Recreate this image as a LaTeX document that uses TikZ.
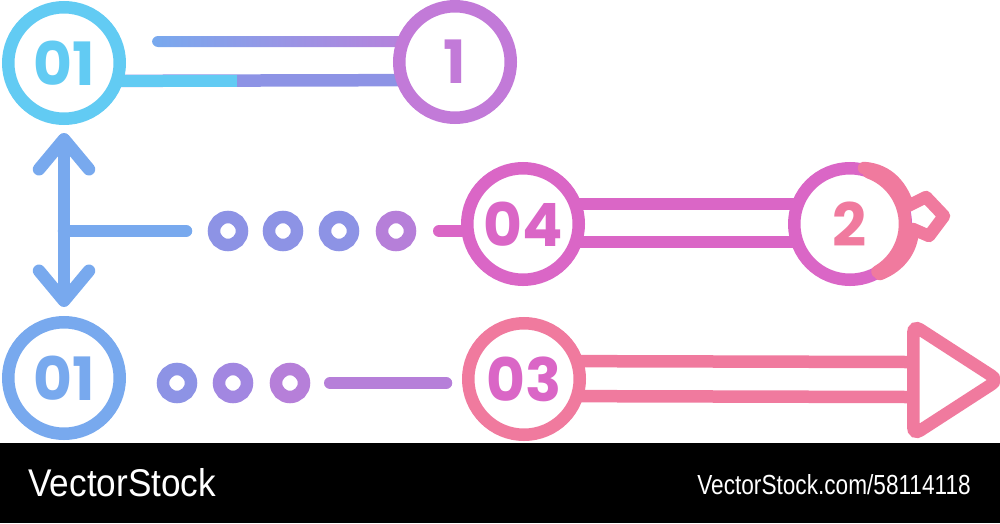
\documentclass[tikz,border=0pt]{standalone}
\usepackage{fontspec}
\setmainfont{Liberation Sans}
\newfontfamily\numfont{Poppins}
\usepackage{tikz}
\usetikzlibrary{calc,arrows.meta,shapes.geometric}
\definecolor{sky}{HTML}{62CBF3}
\definecolor{cobalt}{HTML}{78A9EE}
\definecolor{peri}{HTML}{8D93E5}
\definecolor{mauve}{HTML}{A287E1}
\definecolor{lilac}{HTML}{B67FD9}
\definecolor{plum}{HTML}{C27AD8}
\definecolor{orchid}{HTML}{DA66C6}
\definecolor{rose}{HTML}{F07A9E}
\pgfdeclarelayer{bg}
\pgfsetlayers{bg,main}
\tikzset{
  ring/.style={circle, draw=#1, text=#1, fill=white, line width=2.5mm, minimum size=22.3mm, inner sep=0pt,
    font=\numfont\bfseries\fontsize{34}{34}\selectfont},
  bead/.style={circle, draw=#1, line width=2.5mm, minimum size=5.6mm, inner sep=0pt},
  bar/.style={draw=#1, line width=2.5mm, line cap=round},
  flat/.style={draw=#1, line width=2.5mm, line cap=butt},
  spike/.style={isosceles triangle, isosceles triangle stretches, draw=#1, fill=white, line width=2.5mm,
    rounded corners=1.6mm, minimum width=22mm, minimum height=17mm, inner sep=0pt},
  barb/.tip={Straight Barb[length=6mm, width=10mm, round]},
  brand/.style={text=white, inner sep=0pt},
}

\begin{document}
\begin{tikzpicture}[x=0.2mm,y=-0.2mm]
  \useasboundingbox (0,0) rectangle (1000,523);
  % big rings
  \node[ring=sky] (a01) at (64,63) {01};
  \node[ring=plum] (a1) at (455,62) {1};
  \node[ring=orchid] (a04) at (523,224) {04};
  \node[ring=orchid, text=rose] (a2) at (850,224) {2};
  \node[ring=cobalt] (b01) at (64,378) {01};
  \node[ring=rose, text=orchid] (a03) at (524,379) {03};
  \node[spike=rose, anchor=west] (arrowhd) at (907,380) {};
  % small beads
  \foreach \x/\c [count=\i] in {228/peri,283/peri,339/peri,396/lilac}
    \node[bead=\c] (m\i) at (\x,231) {};
  \foreach \x/\c [count=\i] in {177/peri,233/mauve,290/lilac}
    \node[bead=\c] (n\i) at (\x,383) {};
  \coordinate (tee) at (a01 |- m1);
  \coordinate (tend) at (186,231);
  \draw[bar=cobalt, barb-barb, shorten <=1.6mm, shorten >=1.8mm] (a01.south) -- (b01.north);
  \draw[bar=cobalt] (tee) -- (tend);
  % key shape on ring 2
  \draw[bar=rose] ($(a2)+(-70:55)$) arc[start angle=-70, end angle=60, radius=55];
  \draw[bar=rose, line join=round] (864,168) .. controls (890,170) and (902,188) .. (908,206)
    -- (926,197) -- (944,216) -- (929,236) -- (913,229) .. controls (912,250) and (900,266) .. (880,274);
  \begin{pgfonlayer}{bg}
    \fill (0,443) rectangle (1000,523);
    \shade[left color=cobalt, right color=plum, rounded corners=1.2mm] ($(a01)+(88,-27)$) rectangle ($(a1)+(0,-15)$);
    \draw[flat=peri] ($(a01)+(0,18)$) -- ($(a1)+(0,18)$);
    \draw[flat=sky] ($(a01)+(0,18)$) -- +(173,0);
    \draw[bar=orchid, shorten <=4.6mm] (m4.east) -- (m4.east -| a04.west);
    \draw[flat=orchid] ($(a04)+(0,-20)$) -- ($(a2)+(0,-20)$);
    \draw[flat=orchid] ($(a04)+(0,18)$) -- ($(a2)+(0,18)$);
    \draw[bar=lilac, shorten <=4mm, shorten >=3.2mm] (n3.east) -- (n3.east -| a03.west);
    \draw[flat=rose] ($(a03)+(0,-18)$) -- ($(arrowhd.west)+(0,-18)$);
    \draw[flat=rose] ($(a03)+(0,17)$) -- ($(arrowhd.west)+(0,17)$);
  \end{pgfonlayer}
  \node[brand, anchor=west, xscale=0.91, font=\fontsize{22}{22}\selectfont] (logo) at (28,483) {VectorStock};
  \node[brand, anchor=east, xscale=0.82, font=\fontsize{15.7}{16}\selectfont] (ref) at (971,485) {VectorStock.com/58114118};
\end{tikzpicture}
\end{document}
